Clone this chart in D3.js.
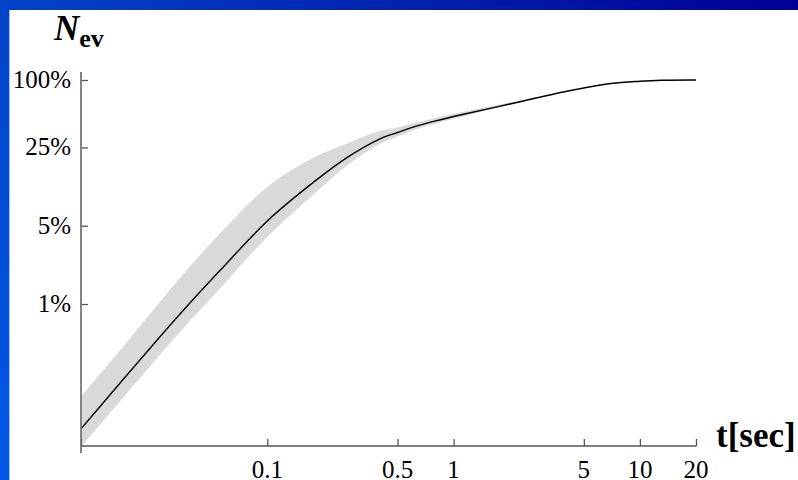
<!DOCTYPE html>
<html>
<head>
<meta charset="utf-8">
<script src="https://cdn.jsdelivr.net/npm/d3@7"></script>
<style>
  html, body { margin: 0; padding: 0; background: #fff; }
  svg { display: block; }
  .tick-label { font-family: "Liberation Serif", "Times New Roman", serif; font-size: 25px; fill: #000; }
</style>
</head>
<body>
<div id="chart"></div>
<script>
// time after start [sec]
var times = [0.01, 0.017, 0.034, 0.056, 0.1, 0.18, 0.27, 0.4, 0.5, 0.6, 0.8, 1.1, 2, 4, 7, 10, 13, 20];
// fraction of events, median curve
var nevMid = [0.00077, 0.00216, 0.00814, 0.0201, 0.0551, 0.125, 0.205, 0.297, 0.340, 0.377, 0.431, 0.49, 0.61, 0.79, 0.93, 0.975, 0.995, 1.0];
// grey band, upper and lower bound
var nevHigh = [0.00149, 0.00426, 0.0171, 0.0430, 0.111, 0.205, 0.273, 0.350, 0.377, 0.409, 0.459, 0.516, 0.629, 0.79, 0.93, 0.975, 0.995, 1.0];
var nevLow = [0.000532, 0.00149, 0.00562, 0.0139, 0.0396, 0.0976, 0.174, 0.268, 0.313, 0.354, 0.409, 0.470, 0.598, 0.79, 0.93, 0.975, 0.995, 1.0];

var xTicks = [0.01, 0.1, 0.5, 1, 5, 10, 20];
var xTickLabels = ['', '0.1', '0.5', '1', '5', '10', '20'];
var yTicks = [1, 0.25, 0.05, 0.01];
var yTickLabels = ['100%', '25%', '5%', '1%'];

var width = 798, height = 480;
var svg = d3.select('#chart').append('svg').attr('width', width).attr('height', height);

// blue frame, top and left
var defs = svg.append('defs');
var gTop = defs.append('linearGradient').attr('id', 'topGrad').attr('x1', '0%').attr('x2', '100%');
gTop.append('stop').attr('offset', '0%').attr('stop-color', '#0044c8');
gTop.append('stop').attr('offset', '100%').attr('stop-color', '#000096');
var gLeft = defs.append('linearGradient').attr('id', 'leftGrad').attr('x1', '0%').attr('x2', '0%').attr('y1', '0%').attr('y2', '100%');
gLeft.append('stop').attr('offset', '0%').attr('stop-color', '#0044c8');
gLeft.append('stop').attr('offset', '100%').attr('stop-color', '#0058e8');
defs.append('clipPath').attr('id', 'plotClip').append('rect')
    .attr('x', 81).attr('y', 72).attr('width', 615).attr('height', 374);

svg.append('rect').attr('x', 0).attr('y', 0).attr('width', 9).attr('height', height).attr('fill', 'url(#leftGrad)');
svg.append('rect').attr('x', 0).attr('y', 0).attr('width', width).attr('height', 10).attr('fill', 'url(#topGrad)');
svg.append('rect').attr('x', 9).attr('y', 10).attr('width', 1).attr('height', height - 10).attr('fill', '#a8c4f4');

var x = d3.scaleLog().domain([0.01, 20]).range([81, 696]);
var y = d3.scaleLog().domain([0.00054, 1]).range([446, 80]);

var data = times.map(function(t, i) {
    return {t: t, mid: nevMid[i], hi: nevHigh[i], lo: nevLow[i]};
});

var plot = svg.append('g').attr('clip-path', 'url(#plotClip)');

var band = d3.area().curve(d3.curveCatmullRom.alpha(0.5))
    .x(function(d) { return x(d.t); })
    .y0(function(d) { return y(d.lo); })
    .y1(function(d) { return y(d.hi); });
plot.append('path').datum(data).attr('d', band).attr('fill', '#d9d9d9');

var line = d3.line().curve(d3.curveCatmullRom.alpha(0.5))
    .x(function(d) { return x(d.t); })
    .y(function(d) { return y(d.mid); });
plot.append('path').datum(data).attr('d', line)
    .attr('fill', 'none').attr('stroke', '#000').attr('stroke-width', 1.4);

// axes
var xAxis = d3.axisBottom(x).tickValues(xTicks).tickSize(-7).tickFormat('');
var gx = svg.append('g').attr('transform', 'translate(0,446)').call(xAxis);
gx.select('.domain').remove();
gx.selectAll('.tick line').attr('stroke', '#555').attr('stroke-width', 1.3);
svg.append('line').attr('x1', 81).attr('x2', 696.5).attr('y1', 446).attr('y2', 446)
    .attr('stroke', '#555').attr('stroke-width', 1.5);

var yAxis = d3.axisLeft(y).tickValues(yTicks).tickSize(-7).tickFormat('');
var gy = svg.append('g').attr('transform', 'translate(81,0)').call(yAxis);
gy.select('.domain').remove();
gy.selectAll('.tick line').attr('stroke', '#555').attr('stroke-width', 1.3);
svg.append('line').attr('x1', 81).attr('x2', 81).attr('y1', 72).attr('y2', 453)
    .attr('stroke', '#777').attr('stroke-width', 1.8);

svg.append('g').selectAll('text.xlab').data(xTicks).enter().append('text')
    .attr('class', 'tick-label xlab')
    .attr('x', function(d) { return x(d); })
    .attr('y', 478)
    .attr('text-anchor', 'middle')
    .text(function(d, i) { return xTickLabels[i]; });

svg.append('g').selectAll('text.ylab').data(yTicks).enter().append('text')
    .attr('class', 'tick-label ylab')
    .attr('x', 71)
    .attr('y', function(d) { return y(d) + 8; })
    .attr('text-anchor', 'end')
    .text(function(d, i) { return yTickLabels[i]; });

// axis titles
svg.append('text').attr('x', 716).attr('y', 447)
    .style('font-family', '"Liberation Serif", serif').style('font-weight', 'bold').style('font-size', '35px')
    .text('t[sec]');

var yTitle = svg.append('text').attr('x', 54).attr('y', 40)
    .style('font-family', '"Liberation Serif", serif').style('font-weight', 'bold');
yTitle.append('tspan').style('font-style', 'italic').style('font-size', '35px').text('N');
yTitle.append('tspan').attr('dy', 7).style('font-size', '26px').text('ev');
</script>
</body>
</html>
